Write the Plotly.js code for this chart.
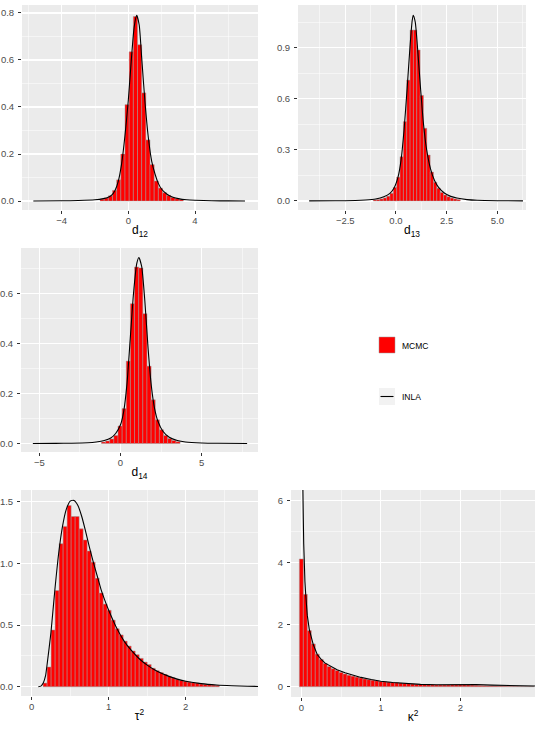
<!DOCTYPE html>
<html>
<head>
<meta charset="utf-8">
<script src="https://cdn.plot.ly/plotly-3.0.1.min.js"></script>
<style>
html,body{margin:0;padding:0;background:#fff;}
#chart{width:537px;height:730px;}
</style>
</head>
<body>
<div id="chart"></div>
<script>
// ---------------- DATA ----------------
// d12 : MCMC histogram (bin centres, densities) and INLA marginal
const d12_bw = 0.25;
const d12_mid = [-1.575,-1.325,-1.075,-0.825,-0.575,-0.325,-0.075,0.175,0.425,0.675,0.925,1.175,1.425,1.675,1.925,2.175,2.425,2.675,2.925,3.175];
const d12_dens = [0.008,0.013,0.022,0.045,0.09,0.20,0.41,0.635,0.785,0.665,0.46,0.26,0.155,0.085,0.055,0.035,0.024,0.015,0.010,0.006];
const d12_inla_x = [-5.7,-4,-3,-2,-1.5,-1.2,-1,-0.8,-0.6,-0.4,-0.2,0,0.2,0.35,0.5,0.65,0.8,1.0,1.2,1.4,1.6,1.8,2.0,2.3,2.6,3,3.5,4,5,6,7.0];
const d12_inla_y = [0.0003,0.0008,0.002,0.005,0.01,0.016,0.025,0.045,0.085,0.16,0.28,0.43,0.62,0.74,0.79,0.75,0.61,0.42,0.27,0.17,0.115,0.075,0.05,0.03,0.018,0.01,0.005,0.003,0.001,0.0005,0.0002];

// d13
const d13_bw = 0.165;
const d13_mid = [-1.0375,-0.8725,-0.7075,-0.5425,-0.3775,-0.2125,-0.0475,0.1175,0.2825,0.4475,0.6125,0.7775,0.9425,1.1075,1.2725,1.4375,1.6025,1.7675,1.9325,2.0975,2.2625,2.4275,2.5925,2.7575,2.9225,3.0875];
const d13_dens = [0.006,0.008,0.012,0.018,0.028,0.045,0.08,0.14,0.26,0.466,0.71,1.004,1.004,0.887,0.62,0.427,0.27,0.17,0.11,0.075,0.05,0.035,0.025,0.017,0.012,0.008];
const d13_inla_x = [-4.28,-3,-2,-1.5,-1,-0.6,-0.3,-0.1,0.1,0.25,0.4,0.55,0.7,0.8,0.85,0.95,1.05,1.2,1.35,1.5,1.7,1.9,2.1,2.4,2.7,3,3.5,4,5,6.26];
const d13_inla_y = [0.0005,0.001,0.003,0.006,0.012,0.025,0.045,0.075,0.14,0.24,0.42,0.66,0.92,1.06,1.09,1.05,0.92,0.68,0.46,0.31,0.19,0.12,0.08,0.045,0.027,0.017,0.008,0.004,0.0015,0.0005];

// d14
const d14_bw = 0.255;
const d14_mid = [-1.0475,-0.7925,-0.5375,-0.2825,-0.0275,0.2275,0.4825,0.7375,0.9925,1.2475,1.5025,1.7575,2.0125,2.2675,2.5225,2.7775,3.0325,3.2875,3.5425];
const d14_dens = [0.006,0.01,0.018,0.032,0.07,0.14,0.33,0.56,0.707,0.703,0.52,0.31,0.175,0.095,0.055,0.032,0.02,0.012,0.007];
const d14_inla_x = [-5.4,-4,-3,-2,-1.5,-1,-0.6,-0.3,0,0.2,0.4,0.6,0.8,1.0,1.13,1.3,1.5,1.7,1.9,2.1,2.3,2.6,3,3.5,4,5,6,7.8];
const d14_inla_y = [0.0003,0.0006,0.0012,0.003,0.006,0.012,0.022,0.04,0.075,0.13,0.24,0.42,0.6,0.72,0.745,0.71,0.57,0.38,0.23,0.14,0.09,0.05,0.025,0.012,0.006,0.002,0.0008,0.0003];

// tau^2
const tau_bw = 0.052;
const tau_mid = [0.174,0.226,0.278,0.33,0.382,0.434,0.486,0.538,0.59,0.642,0.694,0.746,0.798,0.85,0.902,0.954,1.006,1.058,1.11,1.162,1.214,1.266,1.318,1.37,1.422,1.474,1.526,1.578,1.63,1.682,1.734,1.786,1.838,1.89,1.942,1.994,2.046,2.098,2.15,2.202,2.254,2.306,2.358,2.41];
const tau_dens = [0.03,0.16,0.46,0.78,1.16,1.30,1.47,1.38,1.38,1.28,1.19,1.10,1.01,0.88,0.76,0.67,0.62,0.54,0.47,0.42,0.37,0.33,0.29,0.26,0.23,0.20,0.18,0.15,0.13,0.115,0.10,0.085,0.072,0.062,0.052,0.045,0.038,0.033,0.03,0.022,0.02,0.016,0.013,0.011];
const tau_inla_x = [0.086,0.12,0.15,0.18,0.2,0.25,0.3,0.35,0.4,0.45,0.5,0.55,0.6,0.65,0.7,0.75,0.8,0.85,0.9,0.95,1.0,1.1,1.2,1.3,1.4,1.5,1.6,1.7,1.8,1.9,2.0,2.2,2.4,2.6,2.8,3.0];
const tau_inla_y = [0.0,0.005,0.03,0.09,0.18,0.44,0.78,1.08,1.30,1.44,1.505,1.51,1.47,1.38,1.26,1.13,1.01,0.90,0.79,0.70,0.62,0.48,0.37,0.29,0.225,0.175,0.135,0.105,0.08,0.06,0.045,0.025,0.014,0.008,0.004,0.002];

// kappa^2
const kap_bw = 0.05;
const kap_mid = [0,0.05,0.10,0.15,0.20,0.25,0.30,0.35,0.40,0.45,0.50,0.55,0.60,0.65,0.70,0.75,0.80,0.85,0.90,0.95,1.00,1.05,1.10,1.15,1.20,1.25,1.30,1.35,1.40,1.45,1.50,1.55,1.60,1.65,1.70,1.75,1.80,1.85,1.90,1.95,2.00,2.05,2.10,2.15,2.20,2.25,2.30,2.35,2.40,2.45,2.50,2.55,2.60,2.65,2.70,2.75,2.80,2.85,2.90];
const kap_dens = [4.12,2.98,1.81,1.38,1.05,0.88,0.75,0.65,0.58,0.52,0.46,0.41,0.37,0.34,0.31,0.28,0.25,0.23,0.21,0.19,0.17,0.16,0.15,0.14,0.13,0.12,0.11,0.10,0.09,0.08,0.07,0.065,0.06,0.058,0.055,0.055,0.055,0.055,0.06,0.06,0.06,0.06,0.055,0.05,0.045,0.04,0.035,0.03,0.028,0.025,0.022,0.02,0.018,0.016,0.014,0.012,0.01,0.009,0.008];
const kap_inla_x = [0.005,0.01,0.02,0.025,0.03,0.035,0.045,0.055,0.075,0.1,0.125,0.15,0.2,0.25,0.3,0.38,0.45,0.55,0.65,0.75,0.88,1.0,1.15,1.3,1.5,1.7,1.9,2.05,2.2,2.4,2.6,2.8,3.0];
const kap_inla_y = [9.0,7.5,6.5,5.4,4.6,4.0,3.4,2.98,2.3,1.85,1.55,1.36,1.04,0.88,0.76,0.64,0.55,0.45,0.37,0.30,0.23,0.175,0.135,0.105,0.075,0.065,0.075,0.08,0.07,0.05,0.035,0.025,0.018];

const legendLabels = ['MCMC','INLA'];

// ---------------- BUILD ----------------
const W = 537, H = 730;
const fx = p => p / W;
const fy = p => 1 - p / H;

const barStyle = {color:'#FF0000', line:{color:'#9a9a9a', width:0.5}};
const lineStyle = {color:'#000000', width:1.1};

function bars(x, y, w, xa, ya){
  return {type:'bar', x:x, y:y, width:w, xaxis:xa, yaxis:ya, marker:barStyle, showlegend:false, hoverinfo:'skip'};
}
function curve(x, y, xa, ya, shape){
  return {type:'scatter', mode:'lines', x:x, y:y, xaxis:xa, yaxis:ya, line:Object.assign({shape:shape||'spline', smoothing:0.6}, lineStyle), showlegend:false, hoverinfo:'skip'};
}

const data = [
  bars(d12_mid, d12_dens, d12_bw, 'x', 'y'),
  curve(d12_inla_x, d12_inla_y, 'x', 'y'),
  bars(d13_mid, d13_dens, d13_bw, 'x2', 'y2'),
  curve(d13_inla_x, d13_inla_y, 'x2', 'y2'),
  bars(d14_mid, d14_dens, d14_bw, 'x3', 'y3'),
  curve(d14_inla_x, d14_inla_y, 'x3', 'y3'),
  bars(tau_mid, tau_dens, tau_bw, 'x4', 'y4'),
  curve(tau_inla_x, tau_inla_y, 'x4', 'y4'),
  bars(kap_mid, kap_dens, kap_bw, 'x5', 'y5'),
  curve(kap_inla_x, kap_inla_y, 'x5', 'y5', 'linear')
];

const tickFont = {family:'Liberation Sans, Arial, sans-serif', size:9.5, color:'#4D4D4D'};
const titleFont = {family:'Liberation Sans, Arial, sans-serif', size:12, color:'#000000'};

function xax(dom, range, dtick, mdtick, anchor, title, fmt){
  return {domain:dom, range:range, anchor:anchor, tickmode:'linear', tick0:0, dtick:dtick,
    tickformat:fmt||'', ticks:'outside', ticklen:3, tickwidth:1, tickcolor:'#333333',
    ticklabelstandoff:-1,
    showgrid:true, gridcolor:'#FFFFFF', gridwidth:1.1, zeroline:false, showline:false,
    minor:{dtick:mdtick, tick0:0, showgrid:true, gridcolor:'#FFFFFF', gridwidth:0.5, ticks:''},
    tickfont:tickFont, title:{text:title, font:titleFont, standoff:0}, fixedrange:true};
}
function yax(dom, range, dtick, mdtick, anchor, fmt){
  return {domain:dom, range:range, anchor:anchor, tickmode:'linear', tick0:0, dtick:dtick,
    tickformat:fmt||'', ticks:'outside', ticklen:3, tickwidth:1, tickcolor:'#333333',
    ticklabelstandoff:2,
    showgrid:true, gridcolor:'#FFFFFF', gridwidth:1.1, zeroline:false, showline:false,
    minor:{dtick:mdtick, tick0:0, showgrid:true, gridcolor:'#FFFFFF', gridwidth:0.5, ticks:''},
    tickfont:tickFont, fixedrange:true};
}

const layout = {
  width:W, height:H,
  margin:{l:0, r:0, t:0, b:0},
  paper_bgcolor:'#FFFFFF', plot_bgcolor:'#EBEBEB',
  bargap:0, barmode:'overlay', showlegend:false,
  font:{family:'Liberation Sans, Arial, sans-serif'},
  xaxis:  xax([fx(22), fx(258)], [-6.38, 7.78], 4, 2, 'y', 'd<sub>12</sub>'),
  yaxis:  yax([fy(210), fy(5)], [-0.0383, 0.834], 0.2, 0.1, 'x', '.1f'),
  xaxis2: xax([fx(298), fx(526)], [-4.83, 6.41], 2.5, 1.25, 'y2', 'd<sub>13</sub>', '.1f'),
  yaxis2: yax([fy(210), fy(5)], [-0.053, 1.151], 0.3, 0.15, 'x2', '.1f'),
  xaxis3: xax([fx(21), fx(258)], [-6.13, 8.47], 5, 2.5, 'y3', 'd<sub>14</sub>'),
  yaxis3: yax([fy(452), fy(248)], [-0.034, 0.783], 0.2, 0.1, 'x3', '.1f'),
  xaxis4: xax([fx(21), fx(258)], [-0.139, 2.939], 1, 0.5, 'y4', 'τ<sup>2</sup>'),
  yaxis4: yax([fy(696), fy(490)], [-0.075, 1.595], 0.5, 0.25, 'x4', '.1f'),
  xaxis5: xax([fx(291), fx(535)], [-0.13, 2.94], 1, 0.5, 'y5', 'κ<sup>2</sup>'),
  yaxis5: yax([fy(697), fy(490)], [-0.332, 6.345], 2, 1, 'x5'),
  shapes:[
    {type:'rect', xref:'paper', yref:'paper', x0:fx(379), x1:fx(395), y0:fy(353), y1:fy(337), fillcolor:'#FF0000', line:{color:'#9a9a9a', width:0.5}},
    {type:'rect', xref:'paper', yref:'paper', x0:fx(379), x1:fx(395), y0:fy(405), y1:fy(388), fillcolor:'#F2F2F2', line:{width:0}},
    {type:'line', xref:'paper', yref:'paper', x0:fx(380.5), x1:fx(393.5), y0:fy(396.5), y1:fy(396.5), line:{color:'#000000', width:1.1}}
  ],
  annotations:[
    {xref:'paper', yref:'paper', x:fx(399.5), y:fy(345.5), xanchor:'left', yanchor:'middle', showarrow:false, text:legendLabels[0], font:{family:'Liberation Sans, Arial, sans-serif', size:8.5, color:'#000000'}},
    {xref:'paper', yref:'paper', x:fx(399.5), y:fy(396.5), xanchor:'left', yanchor:'middle', showarrow:false, text:legendLabels[1], font:{family:'Liberation Sans, Arial, sans-serif', size:8.5, color:'#000000'}}
  ]
};

Plotly.newPlot('chart', data, layout, {staticPlot:true, displayModeBar:false});
</script>
</body>
</html>
